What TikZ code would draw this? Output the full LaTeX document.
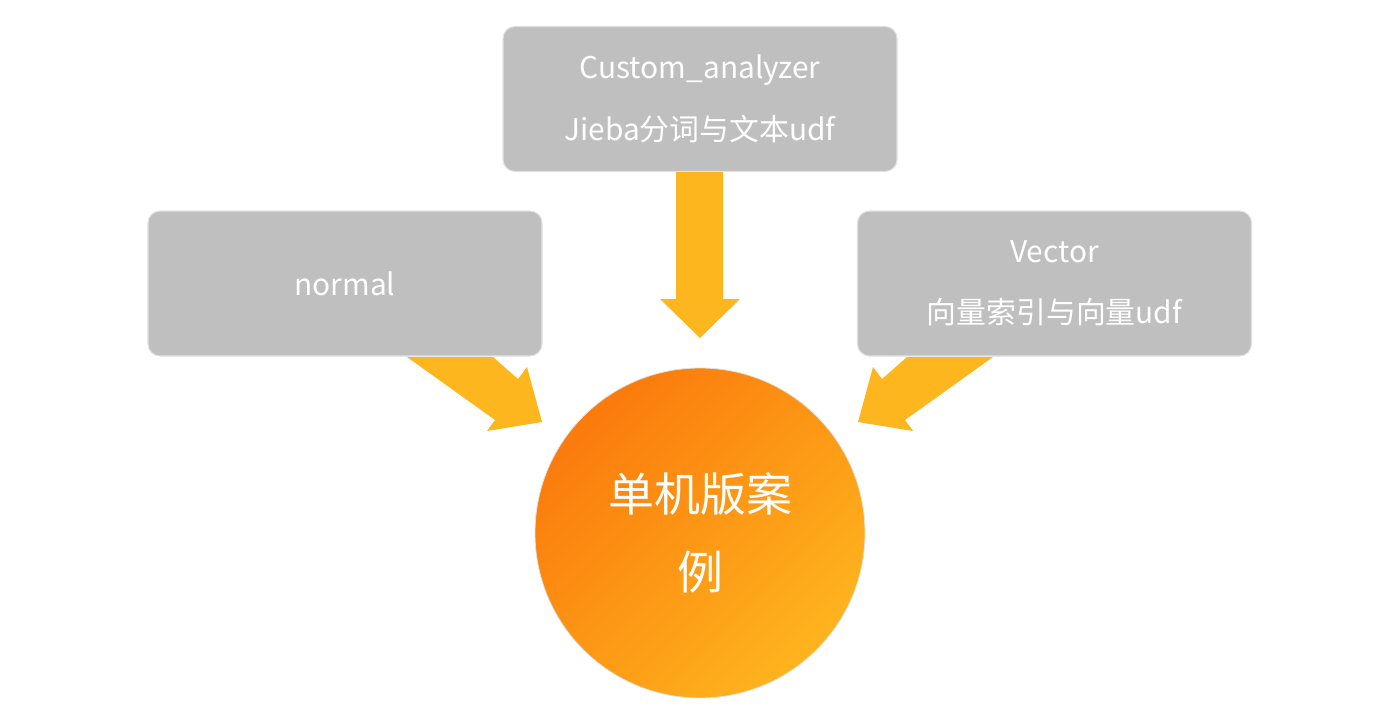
\documentclass[tikz,border=0pt]{standalone}
\usepackage{fontspec}
\newfontfamily\cjk{Noto Sans CJK SC}
\definecolor{boxgray}{RGB}{191,191,191}
\definecolor{boxedge}{RGB}{225,225,225}
\definecolor{arrowc}{RGB}{253,182,30}
\definecolor{orangeA}{RGB}{251,122,12}
\definecolor{orangeB}{RGB}{254,180,30}
\tikzset{
  box/.style={draw=boxedge, line width=0.8pt, fill=boxgray, rounded corners=9pt,
    minimum width=295.5pt, minimum height=108.75pt, inner sep=0pt,
    text=white, align=center, font=\cjk\fontsize{22.4}{46}\selectfont},
  hub/.style={circle, draw=boxedge, line width=0.6pt, minimum size=247.5pt, inner sep=0pt,
    top color=orangeA, bottom color=orangeB, shading angle=45,
    text=white, align=center, font=\cjk\fontsize{34.5}{58}\selectfont},
  blockarrow/.style={fill=arrowc, draw=none}
}
\begin{document}
\begin{tikzpicture}[x=0.75pt,y=-0.75pt]
\useasboundingbox (0,0) rectangle (1400,725);
% boxes
\node[box] (top) at (700,99) {Custom\_analyzer\\Jieba分词与文本udf};
\node[box] (left) at (345,283.5) {normal};
\node[box] (right) at (1054.5,283.5) {Vector\\向量索引与向量udf};
% block arrows
\fill[blockarrow] (676,172) -- (723,172) -- (723,299) -- (740,299) -- (700,338) -- (660,299) -- (676,299) -- cycle;
\fill[blockarrow] (407,357) -- (493,357) -- (518,379) -- (527,367) -- (542,422) -- (487,431) -- (495,420) -- cycle;
\fill[blockarrow] (993,357) -- (907,357) -- (882,379) -- (873,367) -- (858,422) -- (913,431) -- (905,420) -- cycle;
% hub
\node[hub] (hub) at (700,533) {单机版案\\例};
\end{tikzpicture}
\end{document}
